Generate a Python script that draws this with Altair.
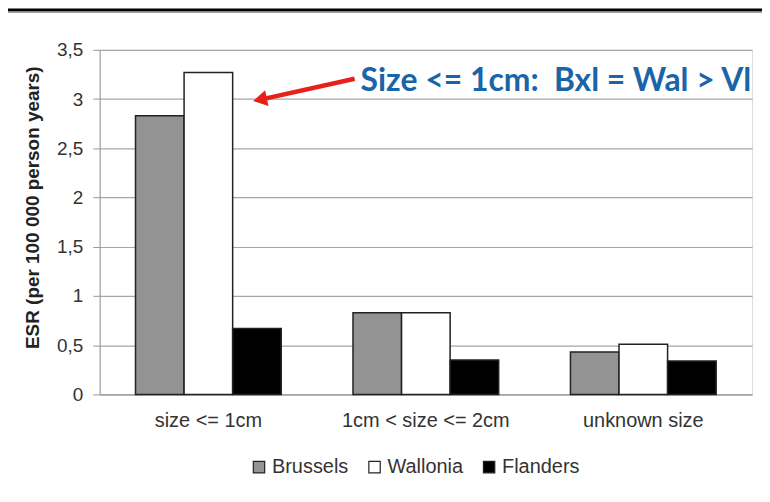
import altair as alt
import pandas as pd

categories = ["size <= 1cm", "1cm < size <= 2cm", "unknown size"]
regions = ["Brussels", "Wallonia", "Flanders"]
brussels = [2.83, 0.83, 0.43]
wallonia = [3.27, 0.83, 0.51]
flanders = [0.67, 0.35, 0.34]
colors = ["#939393", "#ffffff", "#000000"]
annotation = "Size <= 1cm:\u00a0\u00a0Bxl = Wal > Vl"

rows = []
for i, c in enumerate(categories):
    for r, vals in zip(regions, [brussels, wallonia, flanders]):
        rows.append({"category": c, "region": r, "value": vals[i]})
df = pd.DataFrame(rows)

W, H = 655, 346
FONT = "Liberation Sans"

bars = alt.Chart(df).mark_bar(stroke="#222222", strokeWidth=1.5).encode(
    x=alt.X("category:N", sort=categories, title=None,
            scale=alt.Scale(paddingInner=0.33, paddingOuter=0.165),
            axis=alt.Axis(labelAngle=0, labelFont=FONT, labelFontSize=20,
                          labelColor="#333333", ticks=False, domain=True,
                          domainColor="#999999", labelPadding=16)),
    xOffset=alt.XOffset("region:N", sort=regions),
    y=alt.Y("value:Q", scale=alt.Scale(domain=[0, 3.5]),
            title="ESR (per 100 000 person years)",
            axis=alt.Axis(values=[0, 0.5, 1, 1.5, 2, 2.5, 3, 3.5],
                          labelExpr="replace(format(datum.value, '~g'), '.', ',')",
                          labelFont=FONT, labelFontSize=19, labelColor="#333333",
                          labelPadding=10,
                          titleFont=FONT, titleFontSize=19, titleFontWeight="bold",
                          titleColor="#222222", titlePadding=14, titleY=158,
                          grid=True, gridColor="#a6a6a6", gridWidth=1.2,
                          domainColor="#999999", tickColor="#999999", tickSize=7)),
    color=alt.Color("region:N", sort=regions,
                    scale=alt.Scale(domain=regions, range=colors),
                    legend=alt.Legend(title=None, orient="none", direction="horizontal",
                                      legendX=150, legendY=409, symbolType="square",
                                      symbolSize=130, symbolStrokeColor="#222222",
                                      symbolStrokeWidth=1.2, labelFont=FONT,
                                      labelFontSize=20, labelColor="#333333",
                                      columnPadding=16, labelOffset=3)),
)

top_black = alt.Chart().mark_rule(color="#000000", strokeWidth=3).encode(
    x=alt.value(-100), x2=alt.value(680), y=alt.value(-40))
top_gray = alt.Chart().mark_rule(color="#9a9a9a", strokeWidth=1).encode(
    x=alt.value(-100), x2=alt.value(680), y=alt.value(-37.5))

arrow_line = alt.Chart().mark_rule(color="#e8201a", strokeWidth=4.5).encode(
    x=alt.value(256), x2=alt.value(166), y=alt.value(29), y2=alt.value(49))
arrow_head = alt.Chart().mark_point(shape="triangle-left", filled=True, color="#e8201a",
                                     size=260, angle=348, opacity=1).encode(
    x=alt.value(161), y=alt.value(50))

text = alt.Chart().mark_text(text=annotation, font="Lato", fontWeight="bold",
                             fontSize=32, color="#1a64a8", align="left",
                             baseline="alphabetic").encode(
    x=alt.value(262), y=alt.value(41))

chart = alt.layer(bars, top_black, top_gray, arrow_line, arrow_head, text).properties(
    width=W, height=H,
    autosize=alt.AutoSizeParams(type="none"),
    padding={"left": 92, "top": 41, "right": 10, "bottom": 100},
).configure_view(stroke=None).configure(background="white")

chart.save("out.html", embed_options={"renderer": "svg", "actions": False})
